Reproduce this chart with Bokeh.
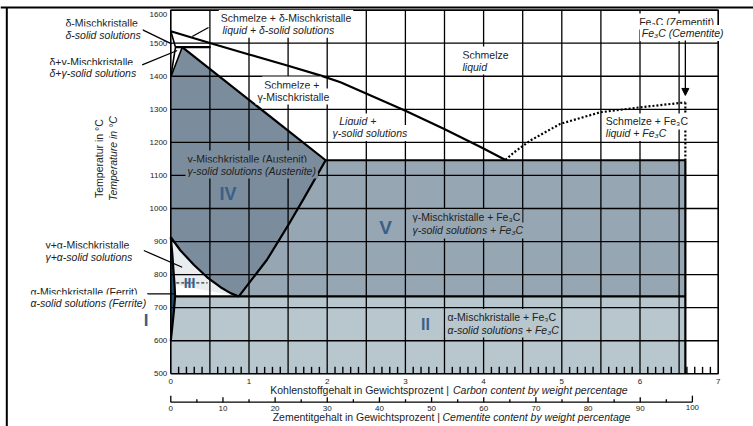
import math
from bokeh.plotting import figure
from bokeh.models import Range1d, ColumnDataSource, Arrow, NormalHead
from bokeh.core.properties import value
from bokeh.embed import file_html
from bokeh.resources import INLINE

# ---------------- data (carbon wt-%, temperature in °C) ----------------
carbon_ticks = [0, 1, 2, 3, 4, 5, 6, 7]
temp_ticks = [500, 600, 700, 800, 900, 1000, 1100, 1200, 1300, 1400, 1500, 1600]
cementite_ticks = list(range(0, 105, 5))
cementite_labels = [0, 10, 20, 30, 40, 50, 60, 70, 80, 90, 100]
carbon_at_full_cementite = 6.67

liquidus_c = [0.0, 0.51, 1.0, 1.5, 1.92, 2.17, 3.0, 3.49, 3.98, 4.28]
liquidus_t = [1536, 1500, 1466, 1432, 1402, 1382, 1296, 1241, 1184, 1147]
cem_liq_c = [4.28, 4.39, 4.6, 4.98, 5.49, 6.0, 6.58]
cem_liq_t = [1147, 1170, 1206, 1256, 1291, 1306, 1321]
solidus_c = [0.146, 1.98]
solidus_t = [1488, 1146]
acm_c = [0.87, 1.23, 1.49, 1.70, 1.98]
acm_t = [734, 845, 945, 1030, 1146]
a3_c = [0.0, 0.124, 0.294, 0.465, 0.636, 0.764, 0.87]
a3_t = [913, 873, 830, 792, 762, 744, 734]
gp_c = [0.0, 0.02, 0.035, 0.048, 0.055]
gp_t = [913, 860, 810, 770, 734]
pq_c = [0.055, 0.04, 0.02, 0.0]
pq_t = [734, 690, 645, 600]
delta_c = [0.0, 0.06, 0.0, 0.146]      # A - H - N - J
delta_t = [1536, 1488, 1398, 1488]
peritectic_c = [0.06, 0.51]
peritectic_t = 1488
eutectic_t = 1146
eutectoid_t = 734
fe3c_c = 6.58
curie_c = [0.07, 0.47]
curie_t = 775

# ---------------- colours ----------------
C_IV = "#7b8c9c"
C_V = "#97a6b3"
C_II = "#b8c6cd"
C_III = "#e9edef"
C_I = "#2a4d6e"
C_ROMAN = "#3a6088"
TXT = "#222222"
FONT = value("Liberation Sans")
GW = 1.3

X0, X1 = -2.1777, 7.4514
Y0, Y1 = 340.6, 1629.2
p = figure(width=753, height=426, x_range=Range1d(X0, X1),
           y_range=Range1d(Y0, Y1), output_backend="svg",
           toolbar_location=None, min_border=0,
           x_axis_location=None, y_axis_location=None)
p.grid.visible = False
p.outline_line_color = None
p.background_fill_color = "white"

tmin, tmax = float(temp_ticks[0]), float(temp_ticks[-1])
cmin, cmax = float(carbon_ticks[0]), float(carbon_ticks[-1])

# page frame (top and left rules)
p.line([X0, X1], [1608.0, 1608.0], line_color="black", line_width=2)
p.line([-2.097, -2.097], [Y0, 1608.0], line_color="black", line_width=2)

# ---------------- phase fields ----------------
p.quad(left=cmin, right=fe3c_c, bottom=tmin, top=eutectoid_t, fill_color=C_II, line_color=None)
v_x = [acm_c[-1], fe3c_c, fe3c_c] + acm_c[:-1]
v_y = [eutectic_t, eutectic_t, eutectoid_t] + acm_t[:-1]
p.patch(v_x, v_y, fill_color=C_V, line_color=None)
iv_x = [delta_c[2], solidus_c[0], solidus_c[1]] + acm_c[::-1][1:] + a3_c[::-1][1:]
iv_y = [delta_t[2], solidus_t[0], solidus_t[1]] + acm_t[::-1][1:] + a3_t[::-1][1:]
p.patch(iv_x, iv_y, fill_color=C_IV, line_color=None)
iii_x = a3_c + gp_c[::-1][1:]
iii_y = a3_t + gp_t[::-1][1:]
p.patch(iii_x, iii_y, fill_color=C_III, line_color=None)
i_x = gp_c + pq_c[1:]
i_y = gp_t + pq_t[1:]
p.patch(i_x, i_y, fill_color=C_I, line_color=None)

# ---------------- phase boundaries ----------------
LW = 2.2
p.line(liquidus_c, liquidus_t, line_color="black", line_width=LW)
p.line(solidus_c, solidus_t, line_color="black", line_width=LW)
p.line(acm_c, acm_t, line_color="black", line_width=LW)
p.line(a3_c, a3_t, line_color="black", line_width=LW)
p.line(gp_c + pq_c[1:], gp_t + pq_t[1:], line_color="black", line_width=LW)
p.line(delta_c[:3], delta_t[:3], line_color="black", line_width=1.6)
p.line(delta_c[2:], delta_t[2:], line_color="black", line_width=1.6)
p.line(peritectic_c, [peritectic_t] * 2, line_color="black", line_width=LW)
p.line([acm_c[-1], fe3c_c], [eutectic_t] * 2, line_color="black", line_width=LW)
p.line([gp_c[-1], fe3c_c], [eutectoid_t] * 2, line_color="black", line_width=LW)
p.line([fe3c_c, fe3c_c], [tmin, eutectic_t], line_color="black", line_width=LW)
p.line(cem_liq_c, cem_liq_t, line_color="black", line_width=2.2, line_dash="2 2")
p.line([fe3c_c, fe3c_c], [cem_liq_t[-1], eutectic_t], line_color="black", line_width=2.2, line_dash="2 2")
p.line(curie_c, [curie_t] * 2, line_color="#333333", line_width=GW, line_dash="3 2")

# frame of the diagram
p.line([cmin, cmax, cmax, cmin, cmin], [tmin, tmin, tmax, tmax, tmin],
       line_color="black", line_width=1.6)

# ---------------- grid (drawn over the fields, one line each) ----------------
grid_c = [0.5 * i for i in range(1, 14)]
grid_t = [float(t) for t in temp_ticks[1:-1]]
for c in grid_c:
    p.line([c, c], [tmin, tmax], line_color="black", line_width=GW)
for t in grid_t:
    p.line([cmin, cmax], [t, t], line_color="black", line_width=GW)
minor_c = [i / 10 for i in range(1, 70) if i % 5]
p.multi_line(xs=[[c, c] for c in minor_c], ys=[[tmin, tmin + 21.0] for c in minor_c],
             line_color="black", line_width=1.4)

# leader lines
leaders = [
    (-0.386, 1543.6, 0.01, 1498.0),
    (-0.366, 1434.7, 0.082, 1477.9),
    (-0.345, 872.9, 0.146, 822.4),
    (-0.302, 742.0, 0.038, 742.0),
    (0.482, 1547.5, 0.274, 1520.3),
]
p.multi_line(xs=[[l[0], l[2]] for l in leaders], ys=[[l[1], l[3]] for l in leaders],
             line_color="black", line_width=GW)

# arrow to Fe3C
p.add_layout(Arrow(end=NormalHead(size=7, fill_color="black", line_color="black"),
                   x_start=fe3c_c, y_start=1508, x_end=fe3c_c, y_end=1342,
                   line_color="black", line_width=GW))

# ---------------- texts (boxes hide the grid behind them) ----------------
W_ = "white"
regular = [
    ("δ-Mischkristalle", -1.372, 1562.6, W_),
    ("δ+γ-Mischkristalle", -1.577, 1444.6, W_),
    ("γ+α-Mischkristalle", -1.628, 891.1, W_),
    ("α-Mischkristalle (Ferrit)", -1.820, 748.9, W_),
    ("Schmelze + δ-Mischkristalle", 0.614, 1576.2, W_),
    ("Schmelze", 3.705, 1465.8, W_),
    ("Fe₃C (Zementit)", 5.964, 1565.6, W_),
    ("Schmelze +", 1.169, 1375.1, W_),
    ("γ-Mischkristalle", 1.083, 1338.8, W_),
    ("Schmelze + Fe₃C", 5.537, 1263.2, W_),
    ("γ-Mischkristalle (Austenit)", 0.188, 1151.2, C_IV),
    ("γ-Mischkristalle + Fe₃C", 3.065, 974.3, C_V),
    ("α-Mischkristalle + Fe₃C", 3.513, 671.8, C_II),
]
italic = [
    ("δ-solid solutions", -1.372, 1526.3, W_),
    ("δ+γ-solid solutions", -1.577, 1409.9, W_),
    ("γ+α-solid solutions", -1.628, 854.8, W_),
    ("α-solid solutions (Ferrite)", -1.820, 715.6, W_),
    ("liquid + δ-solid solutions", 0.636, 1540.8, W_),
    ("liquid", 3.705, 1429.5, W_),
    ("Fe₃C (Cementite)", 5.998, 1530.9, W_),
    ("Liquid +", 2.128, 1263.2, W_),
    ("γ-solid solutions", 2.043, 1228.4, W_),
    ("liquid + Fe₃C", 5.537, 1228.4, W_),
    ("γ-solid solutions (Austenite)", 0.188, 1114.9, C_IV),
    ("γ-solid solutions + Fe₃C", 3.065, 933.5, C_V),
    ("α-solid solutions + Fe₃C", 3.513, 634.0, C_II),
]
for rows, style in ((regular, "normal"), (italic, "italic")):
    src = ColumnDataSource(dict(x=[r[1] for r in rows], y=[r[2] for r in rows],
                                text=[r[0] for r in rows], bg=[r[3] for r in rows]))
    p.text(x="x", y="y", text="text", source=src, text_font=FONT,
           text_font_size="10.5px", text_font_style=style, text_align="left",
           text_baseline="middle", text_color=TXT,
           background_fill_color="bg", padding=2)

roman = [("IV", 0.731, 1044.5, "18px"), ("V", 2.746, 943.4, "19px"),
         ("II", 3.257, 649.1, "16px"), ("I", -0.315, 662.7, "17px"),
         ("III", 0.239, 774.6, "14px")]
p.text(x=[r[1] for r in roman], y=[r[2] for r in roman], text=[r[0] for r in roman],
       text_font_size=[r[3] for r in roman], text_font=FONT, text_font_style="bold",
       text_align="center", text_baseline="middle", text_color=C_ROMAN)

# ---------------- axes (drawn) ----------------
p.text(x=[-0.045] * len(temp_ticks), y=temp_ticks, text=[str(t) for t in temp_ticks],
       y_offset=[0] * (len(temp_ticks) - 1) + [4],
       text_font=FONT, text_font_size="8px", text_align="right",
       text_baseline="middle", text_color=TXT)
p.text(x=carbon_ticks, y=[478.2] * len(carbon_ticks), text=[str(c) for c in carbon_ticks],
       text_font=FONT, text_font_size="8px", text_align="center",
       text_baseline="middle", text_color=TXT)
p.text(x=[3.558], y=[449.5], text=["Kohlenstoffgehalt in Gewichtsprozent |"],
       text_font=FONT, text_font_size="10.5px", text_align="right",
       text_baseline="middle", text_color=TXT)
p.text(x=[3.609], y=[449.5], text=["Carbon content by weight percentage"],
       text_font=FONT, text_font_size="10.5px", text_font_style="italic",
       text_align="left", text_baseline="middle", text_color=TXT)

# cementite scale
k = carbon_at_full_cementite / 100.0
cem_axis_t = 414.1
p.line([cementite_ticks[0] * k, cementite_ticks[-1] * k], [cem_axis_t] * 2,
       line_color="black", line_width=GW)
tick_len = [19.7 if c in (0, 100) else (15.1 if c % 10 == 0 else 9.1) for c in cementite_ticks]
p.multi_line(xs=[[c * k, c * k] for c in cementite_ticks],
             ys=[[cem_axis_t, cem_axis_t + L] for L in tick_len],
             line_color="black", line_width=GW)
p.text(x=[c * k for c in cementite_labels], y=[395.0] * len(cementite_labels),
       text=[str(c) for c in cementite_labels],
       y_offset=[0] * (len(cementite_labels) - 1) + [-1.5],
       text_font=FONT, text_font_size="8px", text_align="center",
       text_baseline="middle", text_color=TXT)
p.text(x=[3.442], y=[370.8], text=["Zementitgehalt in Gewichtsprozent |"],
       text_font=FONT, text_font_size="10.5px", text_align="right",
       text_baseline="middle", text_color=TXT)
p.text(x=[3.474], y=[370.8], text=["Cementite content by weight percentage"],
       text_font=FONT, text_font_size="10.5px", text_font_style="italic",
       text_align="left", text_baseline="middle", text_color=TXT)

# temperature axis title
p.text(x=[-0.924], y=[1151], text=["Temperatur in °C"], angle=math.pi / 2,
       text_font=FONT, text_font_size="10.5px", text_align="center",
       text_baseline="middle", text_color=TXT)
p.text(x=[-0.745], y=[1151], text=["Temperature in °C"], angle=math.pi / 2,
       text_font=FONT, text_font_size="10.5px", text_font_style="italic",
       text_align="center", text_baseline="middle", text_color=TXT)

open("out.html", "w").write(file_html(p, INLINE))
